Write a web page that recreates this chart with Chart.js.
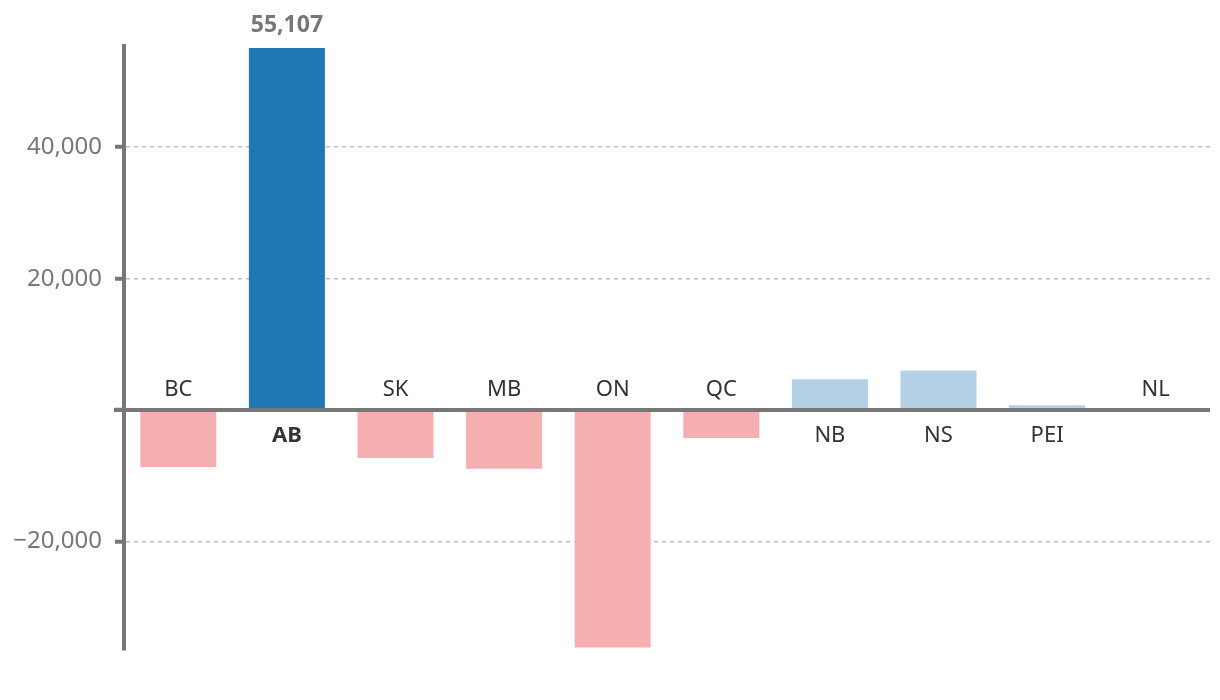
<!DOCTYPE html>
<html>
<head>
<meta charset="utf-8">
<script src="https://cdn.jsdelivr.net/npm/chart.js@4/dist/chart.umd.min.js"></script>
<style>
  html, body { margin: 0; padding: 0; background: #ffffff; }
  #wrap { width: 1220px; height: 700px; }
</style>
</head>
<body>
<div id="wrap"><canvas id="c" width="1220" height="700"></canvas></div>
<script>
const categories = ['BC', 'AB', 'SK', 'MB', 'ON', 'QC', 'NB', 'NS', 'PEI', 'NL'];
const values = [-8640, 55107, -7270, -8940, -36130, -4240, 4680, 6040, 730, -60];
const highlight = 'AB';
const yTicks = [-20000, 0, 20000, 40000];
const yMin = -36500;
const yMax = 55400;

const FONT = '"Noto Sans", "Open Sans", sans-serif';
const DARK_BLUE = '#1f77b4';
const LIGHT_BLUE = '#b3d0e5';
const PINK = '#f5afb1';
const AXIS = '#777777';

const barColors = categories.map((c, i) => c === highlight ? DARK_BLUE : (values[i] >= 0 ? LIGHT_BLUE : PINK));

const overlay = {
  id: 'overlay',
  afterDatasetsDraw(chart) {
    const ctx = chart.ctx;
    const x = chart.scales.x, y = chart.scales.y;
    const area = chart.chartArea;
    const y0 = y.getPixelForValue(0);
    ctx.save();
    // zero line
    ctx.strokeStyle = AXIS;
    ctx.lineWidth = 4;
    ctx.beginPath();
    ctx.moveTo(area.left - 10, y0);
    ctx.lineTo(area.right, y0);
    ctx.stroke();
    // category labels
    ctx.textAlign = 'center';
    ctx.textBaseline = 'alphabetic';
    categories.forEach((c, i) => {
      const px = x.getPixelForValue(i);
      const bold = c === highlight;
      ctx.font = (bold ? 'bold ' : '') + '22px ' + FONT;
      ctx.fillStyle = '#333333';
      if (values[i] < 0) {
        ctx.fillText(c, px, y0 - 14);
      } else {
        ctx.fillText(c, px, y0 + 32);
      }
    });
    // value label for highlighted bar
    const hi = categories.indexOf(highlight);
    const meta = chart.getDatasetMeta(0);
    const bar = meta.data[hi];
    ctx.font = 'bold 23px ' + FONT;
    ctx.fillStyle = AXIS;
    ctx.fillText(values[hi].toLocaleString('en-US'), bar.x, bar.y - 16);
    ctx.restore();
  }
};

new Chart(document.getElementById('c'), {
  type: 'bar',
  data: {
    labels: categories,
    datasets: [{
      data: values,
      backgroundColor: barColors,
      borderWidth: 0,
      categoryPercentage: 1.0,
      barPercentage: 0.7
    }]
  },
  options: {
    responsive: false,
    animation: false,
    devicePixelRatio: 1,
    layout: { padding: { top: 46, bottom: 50, right: 10, left: 0 } },
    plugins: { legend: { display: false }, tooltip: { enabled: false } },
    scales: {
      x: {
        display: false,
        offset: true,
        grid: { display: false }
      },
      y: {
        min: yMin,
        max: yMax,
        afterBuildTicks(s) { s.ticks = yTicks.map(v => ({ value: v })); },
        afterFit(s) { s.width = 124; },
        border: { display: true, color: AXIS, width: 4, dash: [4, 4] },
        grid: {
          color: (ctx) => (ctx.tick && ctx.tick.value === 0) ? 'rgba(0,0,0,0)' : '#b5bec6',
          lineWidth: 1.5,
          drawTicks: true,
          tickLength: 9,
          tickWidth: 4,
          tickColor: AXIS,
          tickBorderDash: []
        },
        ticks: {
          padding: 13,
          color: AXIS,
          font: { family: FONT, size: 24 },
          callback: (v) => v === 0 ? '' : (v < 0 ? '\u2212' + Math.abs(v).toLocaleString('en-US') : v.toLocaleString('en-US'))
        }
      }
    }
  },
  plugins: [overlay]
});
</script>
</body>
</html>
